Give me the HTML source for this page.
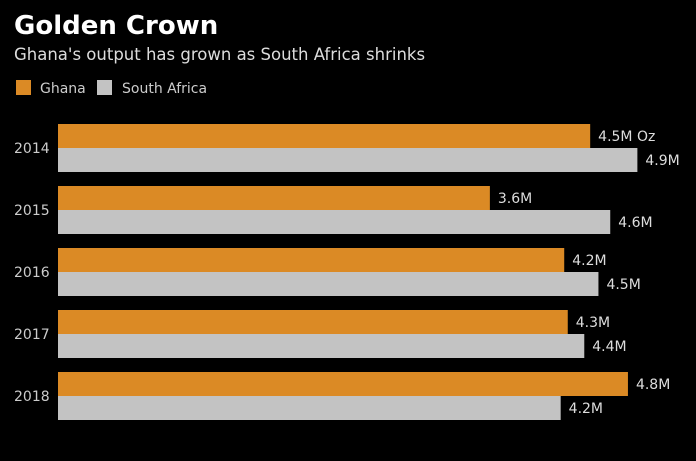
<!DOCTYPE html>
<html><head><meta charset="utf-8"><style>
body{margin:0;background:#000;width:696px;height:461px;overflow:hidden;font-family:"DejaVu Sans","Liberation Sans",sans-serif;color:#ddd}
svg{position:absolute;left:0;top:0}
</style></head><body>
<svg id="chart" width="696" height="461">
<text x="14" y="34" font-size="26" font-weight="bold" fill="#fff" font-family="DejaVu Sans, sans-serif">Golden Crown</text>
<text x="14" y="60" font-size="16.5" fill="#ddd">Ghana's output has grown as South Africa shrinks</text>
<g>
<rect x="16" y="80" width="15" height="15" fill="#DB8A25"/>
<text x="40" y="93" font-size="14" fill="#ccc">Ghana</text>
<rect x="97" y="80" width="15" height="15" fill="#C3C3C3"/>
<text x="122" y="93" font-size="14" fill="#ccc">South Africa</text>
</g>
<g id="bars"></g>
</svg>
<script>
const years = ["2014","2015","2016","2017","2018"];
const ghana = [4.51, 3.66, 4.29, 4.32, 4.83];
const southAfrica = [4.91, 4.68, 4.58, 4.46, 4.26];
const ghanaLabels = ["4.5M Oz","3.6M","4.2M","4.3M","4.8M"];
const saLabels = ["4.9M","4.6M","4.5M","4.4M","4.2M"];
const x0 = 58, pxPerUnit = 118, top0 = 124, band = 62, barH = 24;
const xScale = v => x0 + v * pxPerUnit;
const yScale = i => top0 + i * band;
const ns = "http://www.w3.org/2000/svg";
const g = document.getElementById('bars');
function mk(tag, attrs){const e=document.createElementNS(ns,tag);for(const k in attrs)e.setAttribute(k,attrs[k]);g.appendChild(e);return e;}
years.forEach((yr,i)=>{
  const y=yScale(i);
  const t=mk('text',{x:14,y:y+barH+5,'font-size':14,fill:'#ccc'});
  t.textContent=yr;
  
  
  const b1=mk('rect',{x:x0,y:y,width:xScale(ghana[i])-x0,height:barH,fill:'#DB8A25'});
  
  
  const b2=mk('rect',{x:x0,y:y+barH,width:xScale(southAfrica[i])-x0,height:barH,fill:'#C3C3C3'});
  
  
  const l1=mk('text',{x:xScale(ghana[i])+8,y:y+17,'font-size':14,fill:'#ddd'});
  l1.textContent=ghanaLabels[i];
  
  
  const l2=mk('text',{x:xScale(southAfrica[i])+8,y:y+barH+17,'font-size':14,fill:'#ddd'});
  l2.textContent=saLabels[i];
  
  
});
</script>
</body></html>
